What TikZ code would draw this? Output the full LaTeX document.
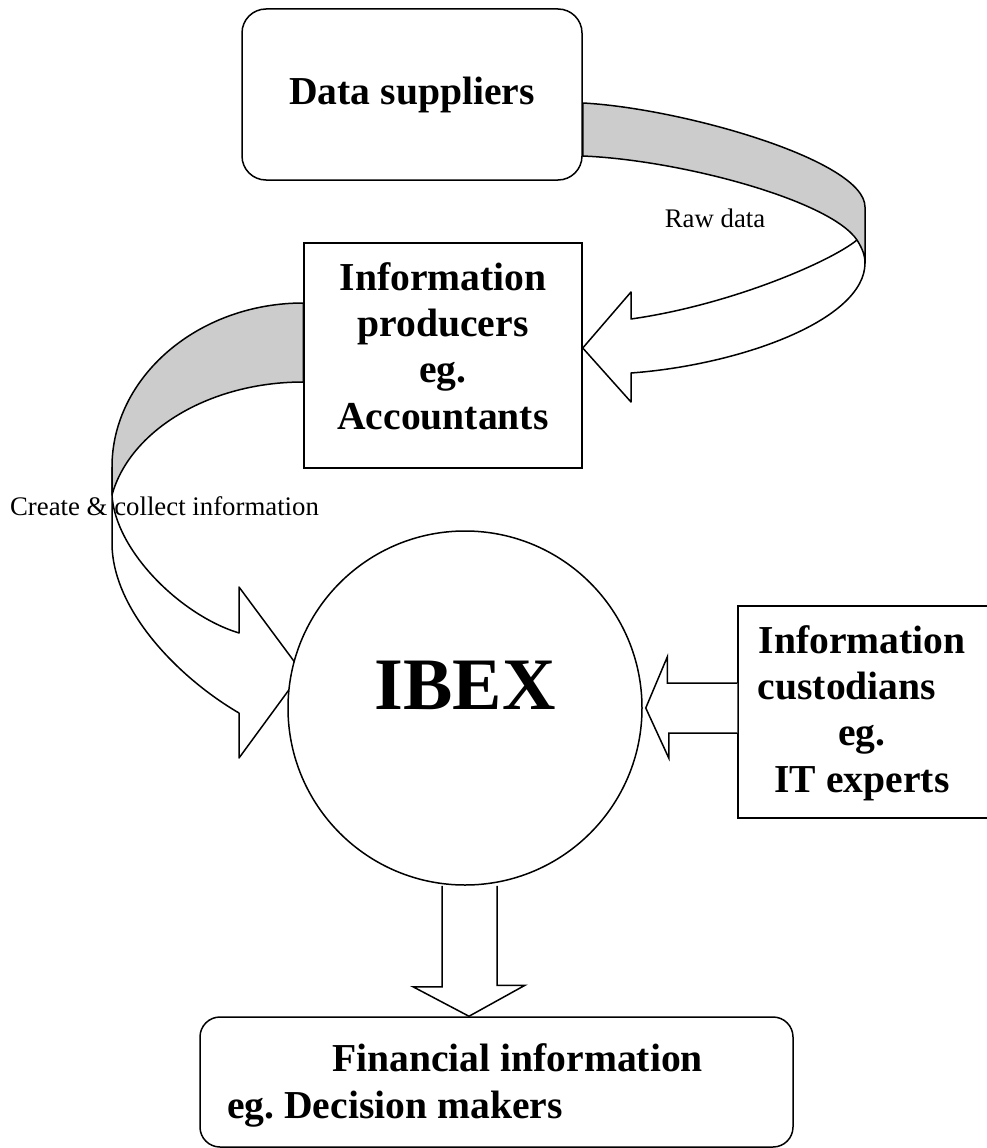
\documentclass[tikz,border=0pt]{standalone}
\usepackage{fontspec}
\setmainfont{Liberation Serif}
\usetikzlibrary{backgrounds}
\tikzset{plain box/.style={draw,line width=1.5pt,inner sep=0pt},}
\tikzset{round box/.style={plain box,rounded corners=24pt},}
\tikzset{big text/.style={font=\fontsize{39.6}{46.3}\selectfont\bfseries,inner sep=0pt,align=center},}
\tikzset{small text/.style={font=\fontsize{26.8}{32}\selectfont,inner sep=0pt},}
\tikzset{band/.style={draw,line width=1.5pt,line join=round},}
\tikzset{band back/.style={band,fill=black!20},}
\tikzset{block arrow/.style={draw,fill=white,line width=1.5pt},}

\begin{document}
\begin{tikzpicture}[x=1pt,y=-1pt]
     \useasboundingbox (0,0) rectangle (987,1148);
     \node[round box,minimum width=340pt,minimum height=171pt,big text] (sup) at (412,94.5) {Data suppliers};
     \node[plain box,minimum width=278pt,minimum height=225pt] (prod) at (443,355.5) {};
     \node[circle,plain box,fill=white,minimum size=354pt] (ibex) at (465,708) {};
     \node[plain box,minimum width=262pt,minimum height=212pt] (cust) at (869,712) {};
     \node[round box,rounded corners=20pt,minimum width=593pt,minimum height=130pt] (fin) at (496.5,1082) {};

     \begin{scope}[on background layer]
     \path[band back] ([yshift=52.5pt]prod.west) .. controls (198,303) and (112,377) .. (112,467) -- (112,495)
          .. controls (130,430) and (210,382) .. ([yshift=-26.5pt]prod.west) -- cycle;
     \draw[band] (112,467) -- (112,543) .. controls (112,610) and (179,678) .. (239,713) -- (239,758) -- (302,672)
          -- (239,587) -- (239,633) .. controls (180,615) and (115,550) .. (112,495);

     \path[band back] ([yshift=-8.5pt]sup.east) .. controls (680,108) and (865,160) .. (865,207) -- (865,263)
          .. controls (865,255) and (862,248) .. (857,240) .. controls (830,200) and (680,160) .. ([yshift=-61.5pt]sup.east) -- cycle;
     \draw[band] (865,263) .. controls (865,320) and (740,365) .. (631,373) -- (631,402) -- ([yshift=7.5pt]prod.east)
          -- (631,292) -- (631,319) .. controls (730,305) and (830,262) .. (857,240);

     \draw[block arrow] ([xshift=-23pt]ibex.south) -- ++(0,101) -- ++(-29,0) -- ([xshift=4pt]ibex.south |- fin.north)
          -- ++(56,-31) -- ++(-28,0) -- ([xshift=32pt]ibex.south);
     \end{scope}

     \draw[block arrow] ([yshift=29pt]cust.west) -- ++(-70,0) -- ++(0,-26) -- ([xshift=3pt]ibex.east)
          -- ++(23,50) -- ++(0,-25) -- ([yshift=-21pt]cust.west);

     \node[big text,anchor=base] (prodtext) at (443,429) {Information\\producers\\eg.\\Accountants};
     \node[big text,anchor=base] (custtext) at (862,792) {Information\\custodians\rule{30pt}{0pt}\\eg.\\IT experts};
     \node[font=\fontsize{74}{80}\selectfont\bfseries,inner sep=0pt,anchor=base] (ibextext) at (465,709) {IBEX};
     \node[big text,align=left,anchor=base west] (fintext) at (227,1118) {\hspace*{105pt}Financial information\\eg.\ Decision makers};
     \node[small text,anchor=base] (rawlabel) at (715,227) {Raw data};
     \node[small text,anchor=base] (createlabel) at (164.5,515) {Create \& collect information};
  \end{tikzpicture}
\end{document}
